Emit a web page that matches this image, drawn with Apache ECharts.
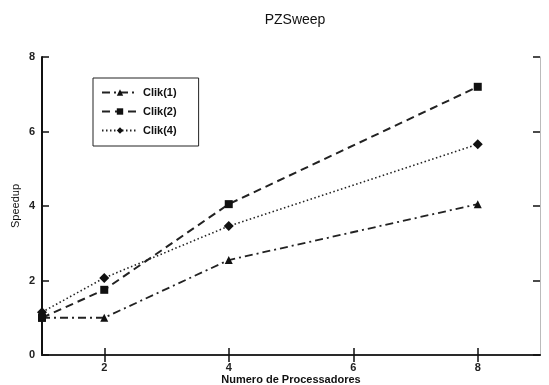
<!DOCTYPE html>
<html lang="en">
<head>
    <meta charset="UTF-8" />
    <title>PZSweep</title>
    <script src="https://cdn.jsdelivr.net/npm/echarts@6/dist/echarts.min.js"></script>
    <style>
        html, body { margin: 0; padding: 0; background: #fff; }
    </style>
</head>
<body>
    <div id="div1" style="width: 549px; height: 385px"></div>

    <script>
        // dados
        var procs = [1, 2, 4, 8];
        var clik1 = [1.0, 1.0, 2.55, 4.05];
        var clik2 = [1.0, 1.75, 4.05, 7.2];
        var clik4 = [1.15, 2.07, 3.46, 5.66];
        var xTicks = [2, 4, 6, 8];
        var yTicks = [0, 2, 4, 6, 8];

        function pares(ys) {
            return procs.map(function (p, i) { return [p, ys[i]]; });
        }

        var font = "Liberation Sans";
        var mCharts = echarts.init(document.querySelector("#div1"));

        var eixoBase = {
            type: "value",
            axisLine: { show: true, lineStyle: { color: "#111", width: 2 } },
            axisTick: { show: true, inside: true, length: 7, lineStyle: { color: "#111", width: 1.5 } },
            splitLine: { show: false },
        };

        var option = {
            animation: false,
            title: {
                text: "PZSweep",
                left: 290,
                textAlign: "center",
                top: 8,
                textStyle: { fontFamily: font, fontSize: 14, fontWeight: "normal", color: "#111" },
            },
            legend: {
                left: 93,
                top: 78,
                orient: "vertical",
                itemWidth: 36,
                itemHeight: 8,
                itemGap: 8,
                padding: [9, 22, 10, 8],
                borderColor: "#222",
                borderWidth: 1,
                textStyle: { fontFamily: font, fontSize: 11, fontWeight: "bold", color: "#111" },
                data: ["Clik(1)", "Clik(2)", "Clik(4)"],
            },
            grid: { left: 42, right: 9, top: 57, bottom: 30, outerBoundsMode: "none", containLabel: false },
            xAxis: [
                Object.assign({}, eixoBase, {
                    min: 1,
                    max: 9,
                    name: "Numero de Processadores",
                    nameLocation: "middle",
                    nameGap: 19,
                    nameMoveOverlap: false,
                    nameTextStyle: { fontFamily: font, fontSize: 11, fontWeight: "bold", color: "#111" },
                    axisTick: Object.assign({}, eixoBase.axisTick, { customValues: xTicks }),
                    axisLabel: {
                        customValues: xTicks,
                        margin: 7,
                        fontFamily: font,
                        fontSize: 11,
                        fontWeight: "bold",
                        color: "#222",
                    },
                }),
                Object.assign({}, eixoBase, {
                    min: 1,
                    max: 9,
                    position: "top",
                    axisLine: { show: true, lineStyle: { color: "#333", width: 1.5 } },
                    axisTick: Object.assign({}, eixoBase.axisTick, { customValues: xTicks }),
                    axisLabel: { show: false },
                }),
            ],
            yAxis: [
                Object.assign({}, eixoBase, {
                    min: 0,
                    max: 8,
                    interval: 2,
                    name: "Speedup",
                    nameLocation: "middle",
                    nameGap: 21,
                    nameMoveOverlap: false,
                    nameTextStyle: { fontFamily: font, fontSize: 11, color: "#111" },
                    axisLabel: {
                        margin: 7,
                        fontFamily: font,
                        fontSize: 11,
                        fontWeight: "bold",
                        color: "#222",
                    },
                }),
                Object.assign({}, eixoBase, {
                    min: 0,
                    max: 8,
                    interval: 2,
                    position: "right",
                    axisLine: { show: true, lineStyle: { color: "#bbb", width: 1 } },
                    axisLabel: { show: false },
                }),
            ],
            series: [
                {
                    name: "Clik(1)",
                    type: "line",
                    data: pares(clik1),
                    symbol: "triangle",
                    symbolSize: 8,
                    itemStyle: { color: "#111" },
                    lineStyle: { color: "#222", width: 1.8, type: [8, 4, 2, 4] },
                    z: 3,
                },
                {
                    name: "Clik(2)",
                    type: "line",
                    data: pares(clik2),
                    symbol: "rect",
                    symbolSize: 8,
                    itemStyle: { color: "#111" },
                    lineStyle: { color: "#222", width: 2, type: [8, 5] },
                    z: 4,
                },
                {
                    name: "Clik(4)",
                    type: "line",
                    data: pares(clik4),
                    symbol: "diamond",
                    symbolSize: 10,
                    itemStyle: { color: "#111" },
                    lineStyle: { color: "#222", width: 1.6, type: [1.5, 2.5] },
                    z: 2,
                },
            ],
        };
        mCharts.setOption(option);
    </script>
</body>
</html>
